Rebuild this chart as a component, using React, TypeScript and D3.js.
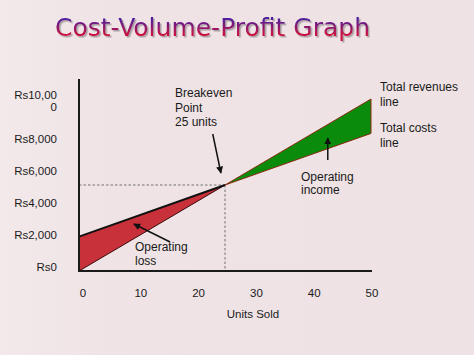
import React from "react";
import * as d3 from "d3";

const units = [0, 25, 50];
const revenues = [0, 5000, 10000];
const costs = [2000, 5000, 8000];
const yTicks = [0, 2000, 4000, 6000, 8000, 10000];
const yTickLabels = [["Rs0"], ["Rs2,000"], ["Rs4,000"], ["Rs6,000"], ["Rs8,000"], ["Rs10,00", "0"]];
const xTicks = [0, 10, 20, 30, 40, 50];
const breakeven = { units: 25, value: 5000 };

const W = 474;
const H = 355;
const FONT = "'Liberation Sans', Arial, sans-serif";

export default function App() {
  const x = d3.scaleLinear().domain([0, 50]).range([79, 371]);
  const y = d3.scaleLinear().domain([0, 10000]).range([271, 99]);
  const yLab = d3.scaleLinear().domain([0, 10000]).range([267, 107]);
  const xLab = d3.scaleLinear().domain([0, 50]).range([83, 372]);

  const rows = units.map((u, i) => ({ u, r: revenues[i], c: costs[i] }));
  const lossRows = rows.filter((d) => d.u <= breakeven.units);
  const gainRows = rows.filter((d) => d.u >= breakeven.units);

  const lossArea = d3
    .area<any>()
    .x((d) => x(d.u))
    .y0((d) => y(d.r))
    .y1((d) => y(d.c));
  const gainArea = d3
    .area<any>()
    .x((d) => x(d.u))
    .y0((d) => y(d.c))
    .y1((d) => y(d.r));
  const line = (key: "r" | "c") =>
    d3
      .line<any>()
      .x((d) => x(d.u))
      .y((d) => y(d[key]));

  const arrows = [
    { from: [22.9, 7965], to: [24.3, 5698] },
    { from: [42.6, 6453], to: [42.6, 7733] },
    { from: [15.6, 1686], to: [9.4, 2733] },
  ];

  const text = (lines: string[], tx: number, ty: number, lh = 14.5) =>
    lines.map((l, i) => (
      <text key={i} x={tx} y={ty + i * lh} dy="0.35em" fontSize={12} fontFamily={FONT} fill="#1a1a1a">
        {l}
      </text>
    ));

  return (
    <svg
      width={W}
      height={H}
      style={{ position: "absolute", left: 0, top: 0, display: "block" }}
    >
      <defs>
        <linearGradient id="tg" x1="0" y1="0" x2="0" y2="1">
          <stop offset="0.2" stopColor="#4f1ea0" />
          <stop offset="0.75" stopColor="#cc1040" />
        </linearGradient>
        <linearGradient id="bg" x1="0" y1="0" x2="1" y2="0">
          <stop offset="0" stopColor="#f3e9ea" />
          <stop offset="0.25" stopColor="#efe3e5" />
          <stop offset="1" stopColor="#eee2e4" />
        </linearGradient>
        <filter id="sh" x="-5%" y="-20%" width="110%" height="150%">
          <feDropShadow dx="1.5" dy="1.5" stdDeviation="0.6" floodColor="#8a8088" floodOpacity="0.7" />
        </filter>
        <marker id="ah" viewBox="0 0 10 10" refX="9" refY="5" markerWidth="7" markerHeight="7" markerUnits="userSpaceOnUse" orient="auto">
          <path d="M0,0 L10,5 L0,10 z" fill="#111" />
        </marker>
      </defs>
      <rect x={0} y={0} width={W} height={H} fill="url(#bg)" />

      {/* Title */}
      <text x={55} y={36} fontSize={25} fontFamily="'DejaVu Sans', Verdana, sans-serif" fill="url(#tg)" filter="url(#sh)">
        Cost-Volume-Profit Graph
      </text>

      {/* Dashed breakeven guides */}
      <line x1={x(0)} x2={x(breakeven.units)} y1={y(breakeven.value)} y2={y(breakeven.value)} stroke="#555" strokeWidth={0.8} strokeDasharray="2.5,2" />
      <line x1={x(breakeven.units)} x2={x(breakeven.units)} y1={y(breakeven.value)} y2={y(0)} stroke="#555" strokeWidth={0.8} strokeDasharray="2.5,2" />

      {/* Areas */}
      <path d={lossArea(lossRows) || ""} fill="#c9313a" />
      <path d={gainArea(gainRows) || ""} fill="#0a8b0c" stroke="#8a2a12" strokeWidth={1} strokeLinejoin="round" />
      <path d={line("r")(lossRows) || ""} fill="none" stroke="#3a0a0a" strokeWidth={1} />
      <path d={line("c")(lossRows) || ""} fill="none" stroke="#111" strokeWidth={2} />

      {/* Axes */}
      <line x1={x(0)} x2={x(0)} y1={79} y2={y(0) + 1} stroke="#1a1a1a" strokeWidth={2} />
      <line x1={x(0) - 1} x2={372} y1={y(0)} y2={y(0)} stroke="#1a1a1a" strokeWidth={2} />

      {yTicks.map((t, i) => {
        const ls = yTickLabels[i];
        return ls.map((l, j) => (
          <text
            key={`${t}-${j}`}
            x={57}
            y={yLab(t) - (ls.length - 1 - j) * 12}
            dy="0.35em"
            textAnchor="end"
            fontSize={11.5}
            fontFamily={FONT}
            fill="#1a1a1a"
          >
            {l}
          </text>
        ));
      })}
      {xTicks.map((t) => (
        <text key={t} x={xLab(t)} y={293} dy="0.35em" textAnchor="middle" fontSize={11.5} fontFamily={FONT} fill="#1a1a1a">
          {t}
        </text>
      ))}
      <text x={253} y={314} dy="0.35em" textAnchor="middle" fontSize={11.5} fontFamily={FONT} fill="#1a1a1a">
        Units Sold
      </text>

      {/* Arrows */}
      {arrows.map((a, i) => (
        <line
          key={i}
          x1={x(a.from[0])}
          y1={y(a.from[1])}
          x2={x(a.to[0])}
          y2={y(a.to[1])}
          stroke="#111"
          strokeWidth={1.5}
          markerEnd="url(#ah)"
        />
      ))}

      {/* Annotations */}
      {text(["Breakeven", "Point", "25 units"], 175, 93)}
      {text(["Operating", "income"], 301, 177, 12.5)}
      {text(["Operating", "loss"], 135, 247, 14)}
      {text(["Total revenues", "line"], 380, 87, 15)}
      {text(["Total costs", "line"], 380, 128, 15)}
    </svg>
  );
}
